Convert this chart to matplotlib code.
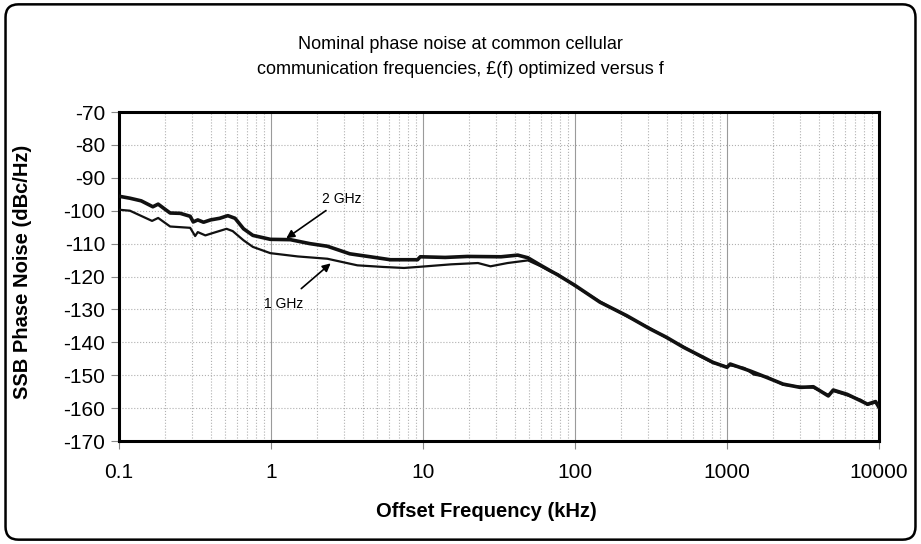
import matplotlib.pyplot as plt
import numpy as np
from matplotlib.patches import FancyBboxPatch
from matplotlib.ticker import LogLocator, FixedLocator, FixedFormatter, NullFormatter

# Daten
f_2ghz = [0.1, 0.118, 0.14, 0.167, 0.181, 0.2, 0.217, 0.253, 0.294, 0.308, 0.33, 0.36,
          0.4, 0.46, 0.52, 0.58, 0.66, 0.76, 0.99, 1.34, 1.8, 2.35, 3.3, 4.5, 6.1, 9.2,
          9.6, 14, 19.6, 32.6, 42, 49, 59, 68.5, 77, 100, 146, 219, 311, 401, 517, 667,
          810, 1000, 1050, 1420, 1830, 2340, 3030, 3700, 4640, 5000, 6170, 7600, 8400,
          9500, 10000]
L_2ghz = [-95.6, -96.2, -97.0, -98.8, -98.0, -99.5, -100.7, -100.8, -101.7, -103.4,
          -102.8, -103.5, -102.8, -102.3, -101.5, -102.3, -105.5, -107.5, -108.7, -108.8,
          -110.0, -110.8, -113.1, -114.0, -114.9, -114.9, -114.0, -114.2, -113.9, -114.0,
          -113.5, -114.3, -116.5, -118.2, -119.5, -122.7, -127.8, -131.9, -135.9, -138.5,
          -141.5, -144.1, -146.1, -147.6, -146.6, -148.7, -150.7, -152.7, -153.7, -153.5,
          -156.3, -154.5, -155.8, -157.8, -158.8, -158.0, -159.8]

f_1ghz = [0.1, 0.118, 0.165, 0.181, 0.217, 0.294, 0.317, 0.33, 0.37, 0.4, 0.51, 0.56,
          0.66, 0.76, 0.99, 1.5, 2.35, 3.3, 3.7, 5.5, 7.5, 9.2, 15.3, 23, 27.8, 36, 49,
          59, 68.5, 77, 100, 146, 219, 311, 401, 517, 667, 810, 1000, 1050, 1300, 1500,
          1830, 2340, 3030, 3700, 4640, 5000, 6170, 7600, 8400, 9500, 10000]
L_1ghz = [-99.7, -100.0, -103.1, -102.2, -104.8, -105.2, -107.7, -106.5, -107.5, -107.0,
          -105.5, -106.2, -109.0, -111.0, -112.9, -113.9, -114.6, -116.1, -116.6, -117.1,
          -117.4, -117.1, -116.3, -115.9, -116.9, -115.9, -115.1, -116.8, -118.4, -119.3,
          -122.9, -127.6, -132.1, -135.7, -138.7, -141.3, -144.3, -146.3, -147.4, -147.0,
          -147.8, -149.8, -150.5, -152.9, -153.5, -153.8, -156.0, -154.8, -156.1, -157.5,
          -159.0, -158.3, -159.5]

x_ticks = [0.1, 1, 10, 100, 1000, 10000]
x_ticklabels = ['0.1', '1', '10', '100', '1000', '10000']
y_ticks = list(range(-170, -69, 10))

plt.rcParams['axes.unicode_minus'] = False
schrift = ['Liberation Sans', 'DejaVu Sans']

# Figur erstellen
fig = plt.figure(figsize=(9.21, 5.44), dpi=100)
ax = fig.add_axes([0.1292, 0.1893, 0.8252, 0.6048])

# Rahmen um die ganze Grafik
rahmen = FancyBboxPatch((0.006, 0.008), 0.988, 0.984, boxstyle='round,pad=0,rounding_size=0.014',
                        mutation_aspect=921 / 544, transform=fig.transFigure,
                        facecolor='none', edgecolor='black', linewidth=1.8, zorder=0)
fig.patches.append(rahmen)

# Kurven
ax.plot(f_1ghz, L_1ghz, '-', color='#111111', linewidth=1.6, zorder=3)
ax.plot(f_2ghz, L_2ghz, '-', color='#111111', linewidth=2.6, zorder=4)

# Achsen
ax.set_xscale('log')
ax.set_xlim(0.1, 10000)
ax.set_ylim(-170, -70)
ax.xaxis.set_major_locator(FixedLocator(x_ticks))
ax.xaxis.set_major_formatter(FixedFormatter(x_ticklabels))
ax.xaxis.set_minor_locator(LogLocator(base=10, subs=np.arange(2, 10), numticks=20))
ax.xaxis.set_minor_formatter(NullFormatter())
ax.set_yticks(y_ticks)

ax.grid(True, which='major', axis='x', color='#9a9a9a', linestyle='-', linewidth=0.8)
ax.grid(True, which='minor', axis='x', color='#b0b0b0', linestyle=':', linewidth=0.8)
ax.grid(True, which='major', axis='y', color='#b0b0b0', linestyle=':', linewidth=0.8)

for s in ax.spines.values():
    s.set_linewidth(2.2)
    s.set_color('black')

ax.tick_params(axis='both', which='major', labelsize=15, length=6, width=0.8,
               color='#888888', direction='out', pad=4)
ax.tick_params(axis='x', which='minor', length=0)
ax.tick_params(axis='x', pad=10)
for lbl in ax.get_xticklabels() + ax.get_yticklabels():
    lbl.set_fontfamily(schrift)

ax.set_xlabel('Offset Frequency (kHz)', fontsize=14.5, fontweight='bold', family=schrift)
ax.xaxis.set_label_coords(0.484, -0.186)
ax.set_ylabel('SSB Phase Noise (dBc/Hz)', fontsize=14.5, fontweight='bold', family=schrift)
ax.yaxis.set_label_coords(-0.115, 0.515)

# Titel
fig.text(0.5, 0.895, 'Nominal phase noise at common cellular\ncommunication frequencies, £(f) optimized versus f',
         ha='center', va='center', fontsize=13, linespacing=1.6,
         family=['Liberation Sans Narrow', 'Liberation Sans', 'DejaVu Sans'])

# Beschriftungen mit Pfeilen
ax.annotate('2 GHz', xy=(1.26, -108.4), xytext=(2.18, -96.5), fontsize=10,
            family=schrift, ha='left', va='center',
            arrowprops=dict(arrowstyle='-|>', color='black', lw=1.2, shrinkA=2, shrinkB=0,
                            mutation_scale=12))
ax.annotate('1 GHz', xy=(2.47, -116.0), xytext=(1.21, -128.3), fontsize=10,
            family=schrift, ha='center', va='center',
            arrowprops=dict(arrowstyle='-|>', color='black', lw=1.2, shrinkA=6, shrinkB=0,
                            mutation_scale=12))

fig.savefig('out.png', dpi=100)
